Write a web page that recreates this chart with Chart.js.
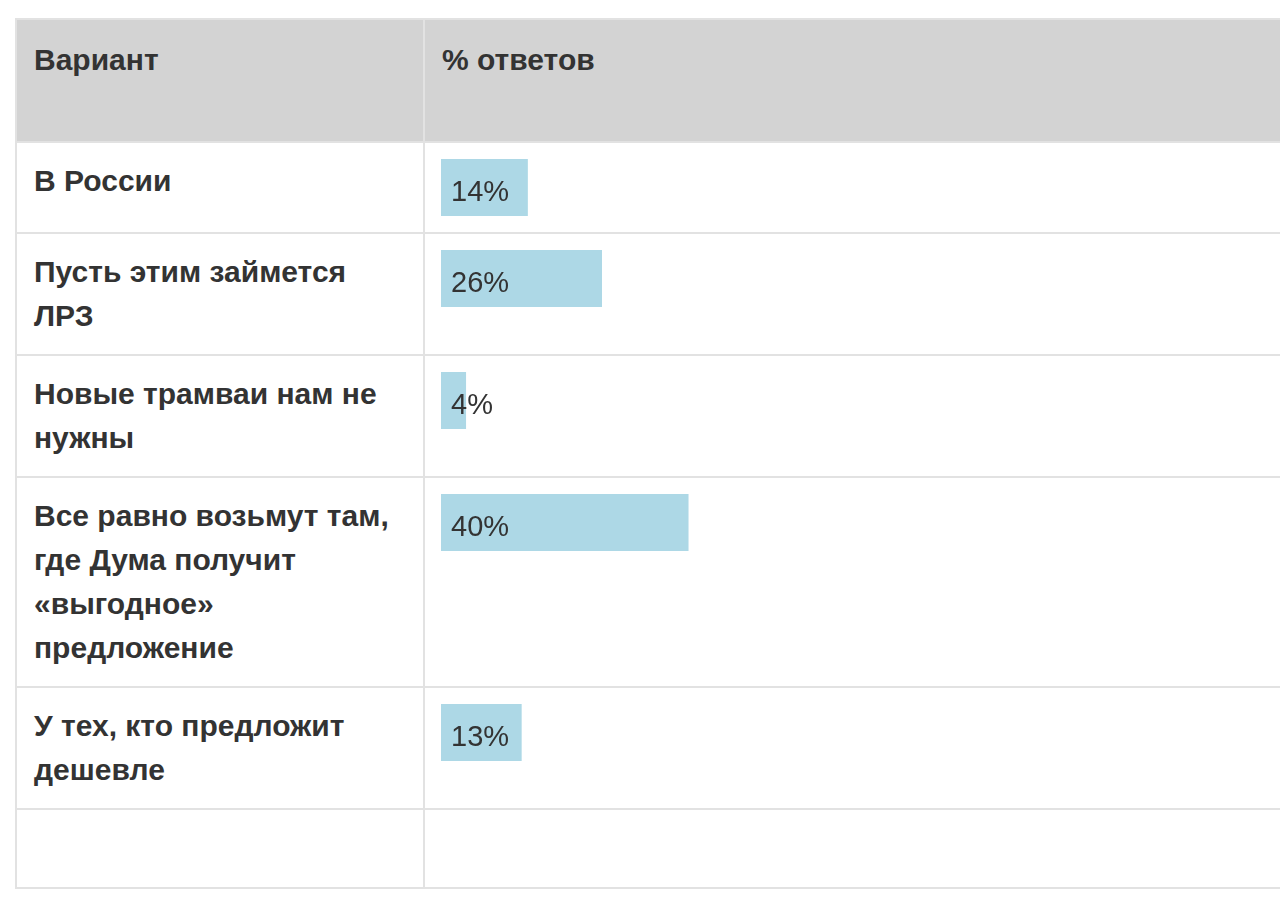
<!DOCTYPE html>
<html>
<head>
<meta charset="utf-8">
<script src="https://cdn.jsdelivr.net/npm/chart.js@4/dist/chart.umd.min.js"></script>
<style>
  html, body { margin: 0; background: #fff; overflow: hidden; }
  body { width: 1280px; height: 898px; position: relative; }
  table {
    position: absolute; left: 15px; top: 18px;
    width: 1400px; table-layout: fixed; border-collapse: collapse;
    font-family: 'Liberation Sans', Arial, sans-serif; color: #333;
  }
  th, td { border: 2px solid #e2e2e2; text-align: left; vertical-align: top; }
  th {
    background: #d3d3d3; height: 85px; padding: 18px 17px 18px;
    font-size: 30px; line-height: 44px; font-weight: bold;
  }
  td.label { padding: 16px 17px 16px; font-size: 30px; line-height: 44px; font-weight: bold; }
  td.bar { padding: 16px 16px 16px; }
  .cell { position: relative; width: 618px; height: 57px; }
  .cell span {
    position: absolute; left: 10px; top: 15px;
    font-size: 29px; line-height: 34px; color: #333;
  }
  tr.empty td { height: 77px; padding: 0; }
</style>
</head>
<body>
<table>
  <colgroup><col style="width:408px"><col style="width:992px"></colgroup>
  <thead><tr><th>Вариант</th><th>% ответов</th></tr></thead>
  <tbody id="rows"></tbody>
</table>
<script>
// poll answers and share of votes, %
const OPTIONS = [
  'В России',
  'Пусть этим займется ЛРЗ',
  'Новые трамваи нам не нужны',
  'Все равно возьмут там, где Дума получит «выгодное» предложение',
  'У тех, кто предложит дешевле',
]
const SHARES = [14, 26, 4, 40, 13]
const SCALE_MAX = 100
const BAR_COLOR = '#add8e6'

const tbody = document.getElementById('rows')

OPTIONS.forEach((label, i) => {
  const tr = document.createElement('tr')
  tr.innerHTML = `<td class="label"></td><td class="bar"><div class="cell"><canvas></canvas><span></span></div></td>`
  tr.querySelector('td.label').textContent = label
  tr.querySelector('span').textContent = SHARES[i] + '%'
  tbody.appendChild(tr)

  new Chart(tr.querySelector('canvas'), {
    type: 'bar',
    data: {
      labels: [label],
      datasets: [{
        data: [SHARES[i]],
        backgroundColor: BAR_COLOR,
        borderWidth: 0,
        barPercentage: 1,
        categoryPercentage: 1,
      }],
    },
    options: {
      indexAxis: 'y',
      responsive: true, maintainAspectRatio: false,
      animation: false,
      layout: { padding: 0 },
      scales: {
        x: { display: false, min: 0, max: SCALE_MAX },
        y: { display: false },
      },
      plugins: { legend: { display: false }, tooltip: { enabled: false } },
    },
  })
})

const empty = document.createElement('tr')
empty.className = 'empty'
empty.innerHTML = '<td></td><td></td>'
tbody.appendChild(empty)
</script>
</body>
</html>
